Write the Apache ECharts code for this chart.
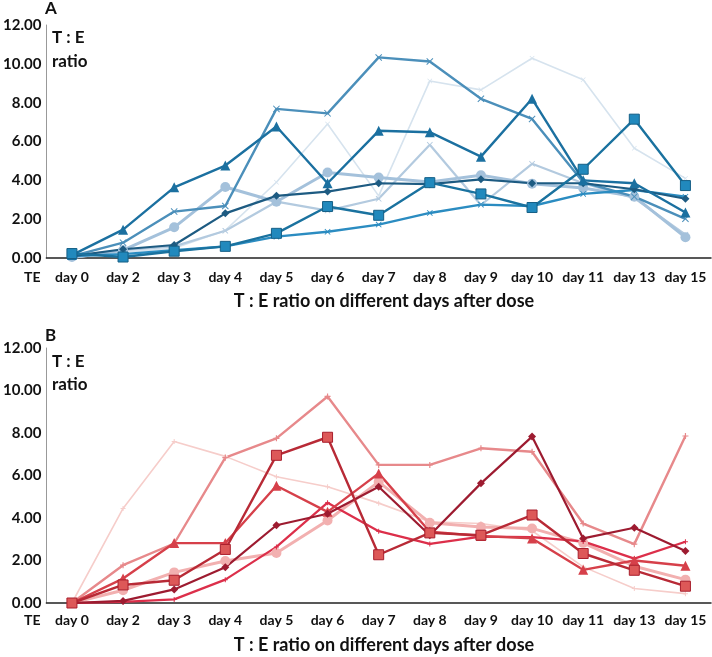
<!DOCTYPE html>
<html>
<head>
<meta charset="utf-8">
<script src="https://cdn.jsdelivr.net/npm/echarts@6/dist/echarts.min.js"></script>
<style>
  html, body { margin: 0; padding: 0; background: #fff; }
  #chart { width: 712px; height: 657px; }
</style>
</head>
<body>
<div id="chart"></div>
<script>
// categories (x axis)
const days = ['day 0', 'day 2', 'day 3', 'day 4', 'day 5', 'day 6', 'day 7', 'day 8', 'day 9', 'day 10', 'day 11', 'day 13', 'day 15'];

// panel A (blue)
const aDiamond  = [0.10, 0.45, 0.67, 2.30, 3.20, 3.42, 3.85, 3.80, 4.05, 3.85, 3.85, 3.54, 3.05];
const aTriangle = [0.15, 1.46, 3.64, 4.76, 6.77, 3.85, 6.55, 6.48, 5.22, 8.20, 4.00, 3.85, 2.34];
const aSquare   = [0.23, 0.05, 0.35, 0.60, 1.27, 2.65, 2.20, 3.88, 3.30, 2.60, 4.57, 7.15, 3.73];
const aCrossHi  = [0.10, 0.79, 2.39, 2.68, 7.68, 7.45, 10.33, 10.12, 8.20, 7.16, 3.90, 3.16, 2.02];
const aCrossLo  = [0.10, 0.20, 0.40, 0.60, 1.10, 1.35, 1.72, 2.32, 2.75, 2.68, 3.30, 3.50, 3.16];
const aCircle   = [0.05, 0.40, 1.58, 3.66, 2.90, 4.40, 4.14, 3.92, 4.26, 3.83, 3.60, 3.16, 1.07];
const aLight    = [0.00, 0.40, 0.60, 1.40, 2.90, 2.44, 3.05, 5.83, 2.73, 4.85, 3.85, 3.08, 1.20];
const aPale     = [0.00, 0.30, 0.50, 1.42, 3.90, 6.90, 3.20, 9.12, 8.66, 10.29, 9.18, 5.65, 4.10];

// panel B (red)
const bPale     = [0.00, 4.45, 7.60, 6.90, 5.94, 5.47, 4.70, 3.82, 3.74, 3.40, 1.70, 0.68, 0.44];
const bSalmon   = [0.00, 1.78, 2.80, 6.84, 7.75, 9.72, 6.50, 6.50, 7.28, 7.12, 3.74, 2.77, 7.86];
const bSquare   = [0.00, 0.85, 1.07, 2.52, 6.95, 7.80, 2.27, 3.30, 3.19, 4.14, 2.33, 1.54, 0.79];
const bDiamond  = [0.00, 0.10, 0.64, 1.68, 3.66, 4.20, 5.47, 3.19, 5.63, 7.83, 3.04, 3.54, 2.45];
const bTriangle = [0.00, 1.15, 2.82, 2.82, 5.52, 4.29, 6.10, 3.35, 3.15, 3.04, 1.56, 2.00, 1.75];
const bRed      = [0.00, 0.05, 0.17, 1.10, 2.64, 4.72, 3.38, 2.78, 3.12, 3.10, 2.90, 2.09, 2.88];
const bCircle   = [0.00, 0.60, 1.44, 1.98, 2.35, 3.88, 5.70, 3.78, 3.58, 3.51, 2.83, 1.73, 1.10];

// y axis ticks
const yMin = 0, yMax = 12, yStep = 2;

const FONT = 'Lato';
const xSym = 'path://M0,1L1,0L5,4L9,0L10,1L6,5L10,9L9,10L5,6L1,10L0,9L4,5Z';
const plusSym = 'path://M4,0H6V4H10V6H6V10H4V6H0V4H4Z';

// one line series
function mk(data, idx, color, symbol, size, width, fill, border) {
  return {
    type: 'line',
    data: data,
    xAxisIndex: idx,
    yAxisIndex: idx,
    symbol: symbol,
    symbolSize: size,
    showSymbol: symbol !== 'none',
    lineStyle: { color: color, width: width },
    itemStyle: { color: fill || color, borderColor: border || fill || color, borderWidth: border ? 1 : 0 },
    animation: false
  };
}

function xAxis(idx, margin) {
  return {
    type: 'category',
    gridIndex: idx,
    data: days,
    boundaryGap: true,
    axisLine: { lineStyle: { color: '#222', width: 1.5 } },
    axisTick: { inside: true, length: 5, lineStyle: { color: '#777' } },
    axisLabel: { interval: 0, margin: margin, color: '#111', fontFamily: FONT, fontWeight: 'bold', fontSize: 14 }
  };
}

function yAxis(idx) {
  return {
    type: 'value',
    gridIndex: idx,
    min: yMin, max: yMax, interval: yStep,
    splitLine: { show: false },
    axisTick: { show: false },
    axisLine: { show: true, lineStyle: { color: '#999', width: 1 } },
    axisLabel: { margin: 5, color: '#111', fontFamily: FONT, fontWeight: 'bold', fontSize: 15,
      formatter: v => v.toFixed(2) }
  };
}

function txt(x, y, text, size, align) {
  return { type: 'text', x: x, y: y, style: { text: text, fill: '#111', font: 'bold ' + size + 'px ' + FONT, textAlign: align || 'left', textVerticalAlign: 'middle' } };
}

const chart = echarts.init(document.getElementById('chart'));

const option = {
  backgroundColor: '#fff',
  grid: [
    { left: 45, right: 1, top: 25, bottom: 399 },
    { left: 45, right: 1, top: 348, bottom: 54 }
  ],
  xAxis: [xAxis(0, 12), xAxis(1, 10)],
  yAxis: [yAxis(0), yAxis(1)],
  graphic: [
    txt(45, 9, 'A', 17),
    txt(52, 38, 'T : E', 17),
    txt(52, 62, 'ratio', 17),
    txt(24, 277, 'TE', 14),
    txt(384, 301, 'T : E ratio on different days after dose', 18, 'center'),
    txt(45, 336, 'B', 17),
    txt(52, 362, 'T : E', 17),
    txt(52, 385, 'ratio', 17),
    txt(24, 620, 'TE', 14),
    txt(384, 645, 'T : E ratio on different days after dose', 18, 'center')
  ],
  series: [
    // A
    mk(aPale, 0, '#d6e3ee', xSym, 5, 1.6),
    mk(aLight, 0, '#b3cadf', xSym, 6, 2.2),
    mk(aCircle, 0, '#a4c1db', 'circle', 10, 3),
    mk(aCrossHi, 0, '#4b8fba', xSym, 7, 2.4),
    mk(aCrossLo, 0, '#2b8cc1', xSym, 6, 2.4),
    mk(aDiamond, 0, '#1d5b82', 'diamond', 8, 2.2),
    mk(aTriangle, 0, '#1b70a0', 'triangle', 10, 2.4),
    mk(aSquare, 0, '#1a729f', 'rect', 10, 2.4, '#2189bd', '#155f86'),
    // B
    mk(bPale, 1, '#f6cdca', plusSym, 5, 1.6),
    mk(bSalmon, 1, '#e7898b', plusSym, 6, 2.4),
    mk(bCircle, 1, '#f2b0b0', 'circle', 10, 3),
    mk(bRed, 1, '#dc2f4a', plusSym, 5, 2.2),
    mk(bTriangle, 1, '#d6404a', 'triangle', 10, 2.4),
    mk(bDiamond, 1, '#9d1b30', 'diamond', 8, 2.2),
    mk(bSquare, 1, '#b82a36', 'rect', 10, 2.4, '#dd5858', '#a81e2c')
  ]
};

chart.setOption(option);
</script>
</body>
</html>
